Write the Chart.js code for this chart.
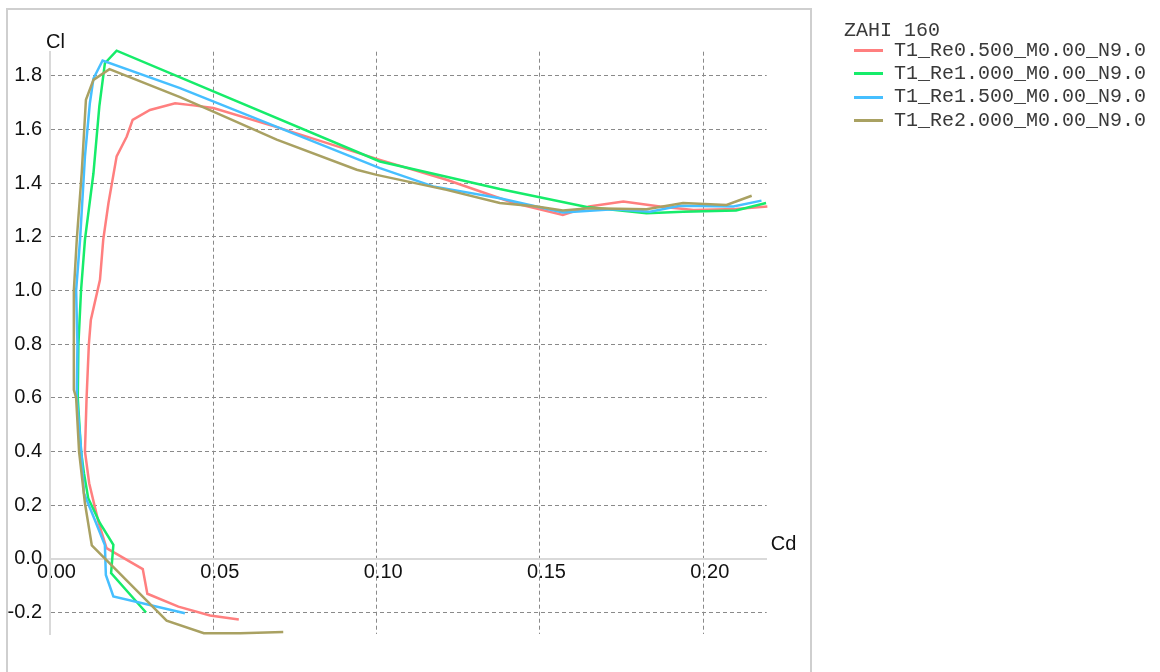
<!DOCTYPE html>
<html lang="en">
<head>
  <meta charset="UTF-8" />
  <title>ZAHI 160 polars</title>
  <script src="https://cdn.jsdelivr.net/npm/chart.js"></script>
  <style>
    body { margin: 0; background: #fff; }
    #wrap { position: relative; width: 1160px; height: 672px; overflow: hidden; }
    #frame { position: absolute; left: 6px; top: 8px; width: 806px; height: 720px; box-sizing: border-box; border: 2px solid #cfcfcf; }
    #box { position: absolute; left: 0; top: 0; width: 1160px; height: 672px; }
    #legend { position: absolute; left: 844px; top: 22.7px; font: 20px "Liberation Mono", monospace; color: #3a3a3a; white-space: pre; }
    #legend .title { line-height: 16px; }
    #legend .row { line-height: 23.3px; margin-left: 10px; }
    #legend .swatch { display: inline-block; width: 29px; height: 3px; vertical-align: middle; margin-right: 11px; }
  </style>
</head>
<body>
  <div id="wrap">
    <div id="frame"></div>
    <div id="box"><canvas id="polarChart"></canvas></div>
    <div id="legend"></div>
  </div>

  <script>
    const foilName = 'ZAHI 160';
    const seriesNames = ['T1_Re0.500_M0.00_N9.0', 'T1_Re1.000_M0.00_N9.0', 'T1_Re1.500_M0.00_N9.0', 'T1_Re2.000_M0.00_N9.0'];
    const seriesColors = ['#ff7f7f', '#16ec6a', '#46bfff', '#a9a162'];

    const cdRe05 = [0.0578, 0.0490, 0.0393, 0.0298, 0.0284, 0.0173, 0.0148, 0.0120, 0.0107, 0.0112, 0.0119, 0.0125, 0.0153, 0.0163, 0.0179, 0.0204, 0.0235, 0.0253, 0.0306, 0.0383, 0.0439, 0.0500, 0.0704, 0.1010, 0.1214, 0.1417, 0.1570, 0.1650, 0.1755, 0.1867, 0.1970, 0.2100, 0.2196];
    const clRe05 = [-0.226, -0.211, -0.178, -0.130, -0.038, 0.040, 0.139, 0.282, 0.400, 0.600, 0.800, 0.890, 1.040, 1.190, 1.326, 1.500, 1.574, 1.636, 1.673, 1.698, 1.690, 1.680, 1.605, 1.487, 1.413, 1.327, 1.282, 1.313, 1.332, 1.313, 1.300, 1.304, 1.313];

    const cdRe10 = [0.0294, 0.0187, 0.0194, 0.0153, 0.0117, 0.0104, 0.0095, 0.0085, 0.0087, 0.0095, 0.0107, 0.0133, 0.0151, 0.0168, 0.0204, 0.1010, 0.1377, 0.1643, 0.1826, 0.1938, 0.2100, 0.2192];
    const clRe10 = [-0.200, -0.053, 0.052, 0.133, 0.226, 0.319, 0.400, 0.600, 0.800, 1.000, 1.190, 1.437, 1.686, 1.847, 1.894, 1.481, 1.378, 1.311, 1.288, 1.294, 1.298, 1.326];

    const cdRe15 = [0.0413, 0.0194, 0.0171, 0.0168, 0.0133, 0.0104, 0.0097, 0.0082, 0.0084, 0.0080, 0.0092, 0.0107, 0.0122, 0.0133, 0.0161, 0.0398, 0.1010, 0.1173, 0.1377, 0.1570, 0.1724, 0.1837, 0.1928, 0.2092, 0.2178];
    const clRe15 = [-0.203, -0.140, -0.060, 0.052, 0.158, 0.245, 0.381, 0.600, 0.800, 1.000, 1.190, 1.500, 1.698, 1.790, 1.857, 1.754, 1.456, 1.388, 1.344, 1.291, 1.303, 1.294, 1.316, 1.313, 1.335];

    const cdRe20 = [0.0714, 0.0582, 0.0471, 0.0357, 0.0128, 0.0107, 0.0089, 0.0080, 0.0073, 0.0073, 0.0073, 0.0082, 0.0097, 0.0110, 0.0133, 0.0182, 0.0398, 0.0500, 0.0694, 0.0939, 0.1000, 0.1214, 0.1377, 0.1490, 0.1570, 0.1650, 0.1826, 0.1938, 0.2071, 0.2148];
    const clRe20 = [-0.273, -0.277, -0.277, -0.230, 0.050, 0.207, 0.400, 0.600, 0.630, 0.800, 1.000, 1.190, 1.437, 1.711, 1.785, 1.825, 1.721, 1.667, 1.562, 1.450, 1.431, 1.375, 1.326, 1.313, 1.298, 1.307, 1.303, 1.326, 1.319, 1.353];

    const cdSeries = [cdRe05, cdRe10, cdRe15, cdRe20];
    const clSeries = [clRe05, clRe10, clRe15, clRe20];

    const gridColor = '#8a8a8a';
    const axisColor = '#d9d9d9';

    // html legend, same look as the xflr5 one
    const legend = document.getElementById('legend');
    legend.innerHTML = '<div class="title">' + foilName + '</div>' +
      seriesNames.map((name, i) =>
        '<div class="row"><span class="swatch" style="background:' + seriesColors[i] + '"></span>' + name + '</div>'
      ).join('');

    // axis names drawn at the ends of the axes
    const axisNames = {
      id: 'axisNames',
      afterDraw(chart) {
        const { ctx, chartArea, scales } = chart;
        const y0 = scales.y.getPixelForValue(0);
        ctx.save();
        ctx.font = '20px "Liberation Sans"';
        ctx.fillStyle = '#111';
        ctx.textBaseline = 'alphabetic';
        ctx.fillText('Cl', chartArea.left - 4, chartArea.top - 4);
        ctx.fillText('Cd', chartArea.right + 4, y0 - 9);
        ctx.restore();
      }
    };

    Chart.defaults.font.family = '"Liberation Sans", Arial, sans-serif';
    Chart.defaults.font.size = 20;
    Chart.defaults.color = '#111';

    const ctx = document.getElementById('polarChart').getContext('2d');
    new Chart(ctx, {
      type: 'scatter',
      data: {
        datasets: seriesNames.map((name, i) => ({
          label: name,
          data: cdSeries[i].map((cd, j) => ({ x: cd, y: clSeries[i][j] })),
          showLine: true,
          borderColor: seriesColors[i],
          backgroundColor: seriesColors[i],
          borderWidth: 2.5,
          pointRadius: 0,
          pointHoverRadius: 0,
          tension: 0,
          clip: false,
          order: seriesNames.length - i
        }))
      },
      options: {
        responsive: true,
        maintainAspectRatio: false,
        animation: false,
        devicePixelRatio: 1,
        layout: {
          padding: { left: 0, top: 51.7, right: 393.3, bottom: 38 }
        },
        plugins: {
          legend: { display: false },
          tooltip: { enabled: false }
        },
        scales: {
          x: {
            type: 'linear',
            min: 0,
            max: 0.2194,
            position: { y: 0 },
            border: { display: true, color: axisColor, width: 2, dash: [4, 3] },
            grid: {
              drawTicks: false,
              lineWidth: 1,
              color: c => (c.tick && c.tick.value === 0 ? 'rgba(0,0,0,0)' : gridColor)
            },
            ticks: {
              stepSize: 0.05,
              includeBounds: false,
              padding: 2,
              labelOffset: 6.5,
              maxRotation: 0,
              callback: v => Number(v).toFixed(2)
            }
          },
          y: {
            type: 'linear',
            min: -0.28,
            max: 1.89,
            position: 'left',
            afterFit: scale => { scale.width = 50; },
            border: { display: true, color: axisColor, width: 2, dash: [4, 3] },
            grid: {
              drawTicks: false,
              lineWidth: 1,
              color: c => (c.tick && c.tick.value === 0 ? 'rgba(0,0,0,0)' : gridColor)
            },
            ticks: {
              stepSize: 0.2,
              includeBounds: false,
              padding: 8,
              callback: v => Number(v).toFixed(1)
            }
          }
        }
      },
      plugins: [axisNames]
    });
  </script>
</body>
</html>
